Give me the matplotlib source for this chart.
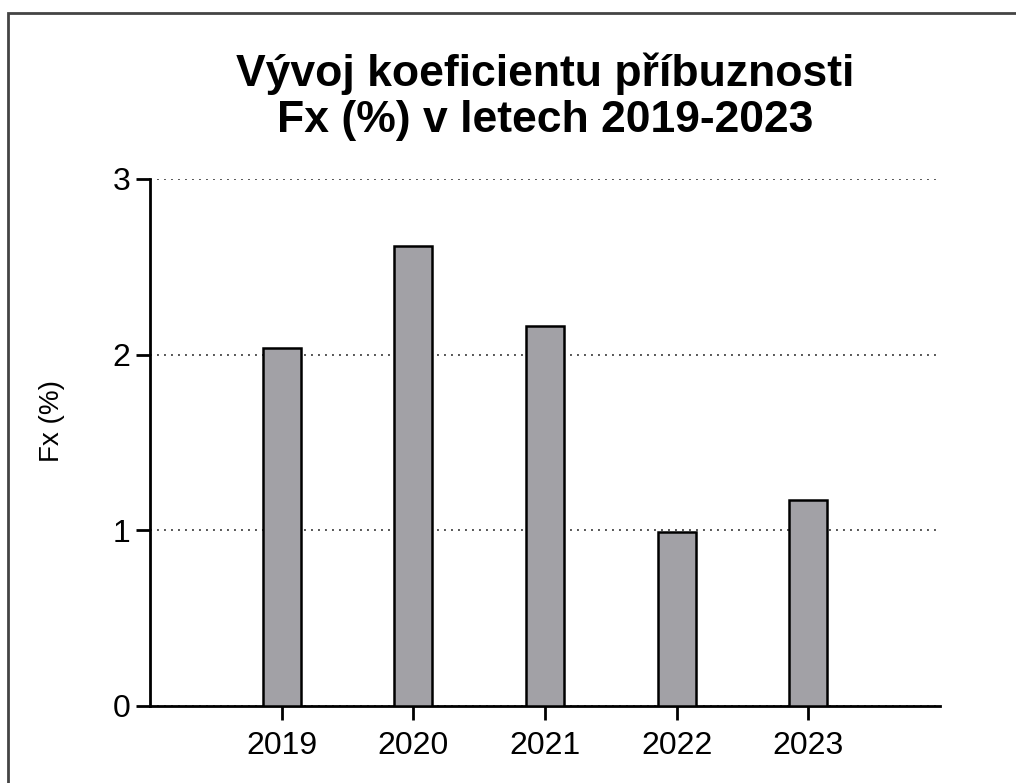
# Fx (%) bar chart, 2019-2023
import matplotlib.pyplot as plt
from matplotlib.patches import Rectangle

years = ["2019", "2020", "2021", "2022", "2023"]
fx_values = [2.04, 2.62, 2.16, 0.99, 1.17]
y_ticks = [0, 1, 2, 3]

plt.rcParams["font.family"] = ["Liberation Sans", "DejaVu Sans"]

fig = plt.figure(figsize=(10.16, 7.83), dpi=100)
ax = fig.add_axes([150 / 1016, 1 - 705.7 / 783, 790 / 1016, 526.7 / 783])

x = list(range(len(years)))
ax.bar(x, fx_values, width=0.29, color="#a2a1a6", edgecolor="black",
       linewidth=1.8, zorder=3)

ax.set_xlim(-1, 5)
ax.set_ylim(0, 3)
ax.set_xticks(x)
ax.set_xticklabels(years)
ax.set_yticks(y_ticks)

ax.yaxis.grid(True, linestyle=(0, (1, 2.6)), color="#555555", linewidth=1.4)
ax.set_axisbelow(True)

for side in ["top", "right"]:
    ax.spines[side].set_visible(False)
for side in ["left", "bottom"]:
    ax.spines[side].set_linewidth(2)
ax.tick_params(axis="both", direction="out", length=10, width=2,
               labelsize=23)
ax.tick_params(axis="x", pad=8)
ax.tick_params(axis="y", pad=4)

ax.set_ylabel("Fx (%)", fontsize=20)
ax.yaxis.set_label_coords(-0.108, 0.54)
ax.set_title("Vývoj koeficientu příbuznosti\nFx (%) v letech 2019-2023",
             fontsize=32, fontweight="bold", pad=34, linespacing=1.15)

# figure frame (only left/top edges visible in the original)
fig.patches.append(Rectangle((8 / 1016, -0.1), 1.1, 1.1 - 13 / 783,
                             transform=fig.transFigure, fill=False,
                             edgecolor="#444444", linewidth=2))

fig.savefig("out.png", dpi=100)
